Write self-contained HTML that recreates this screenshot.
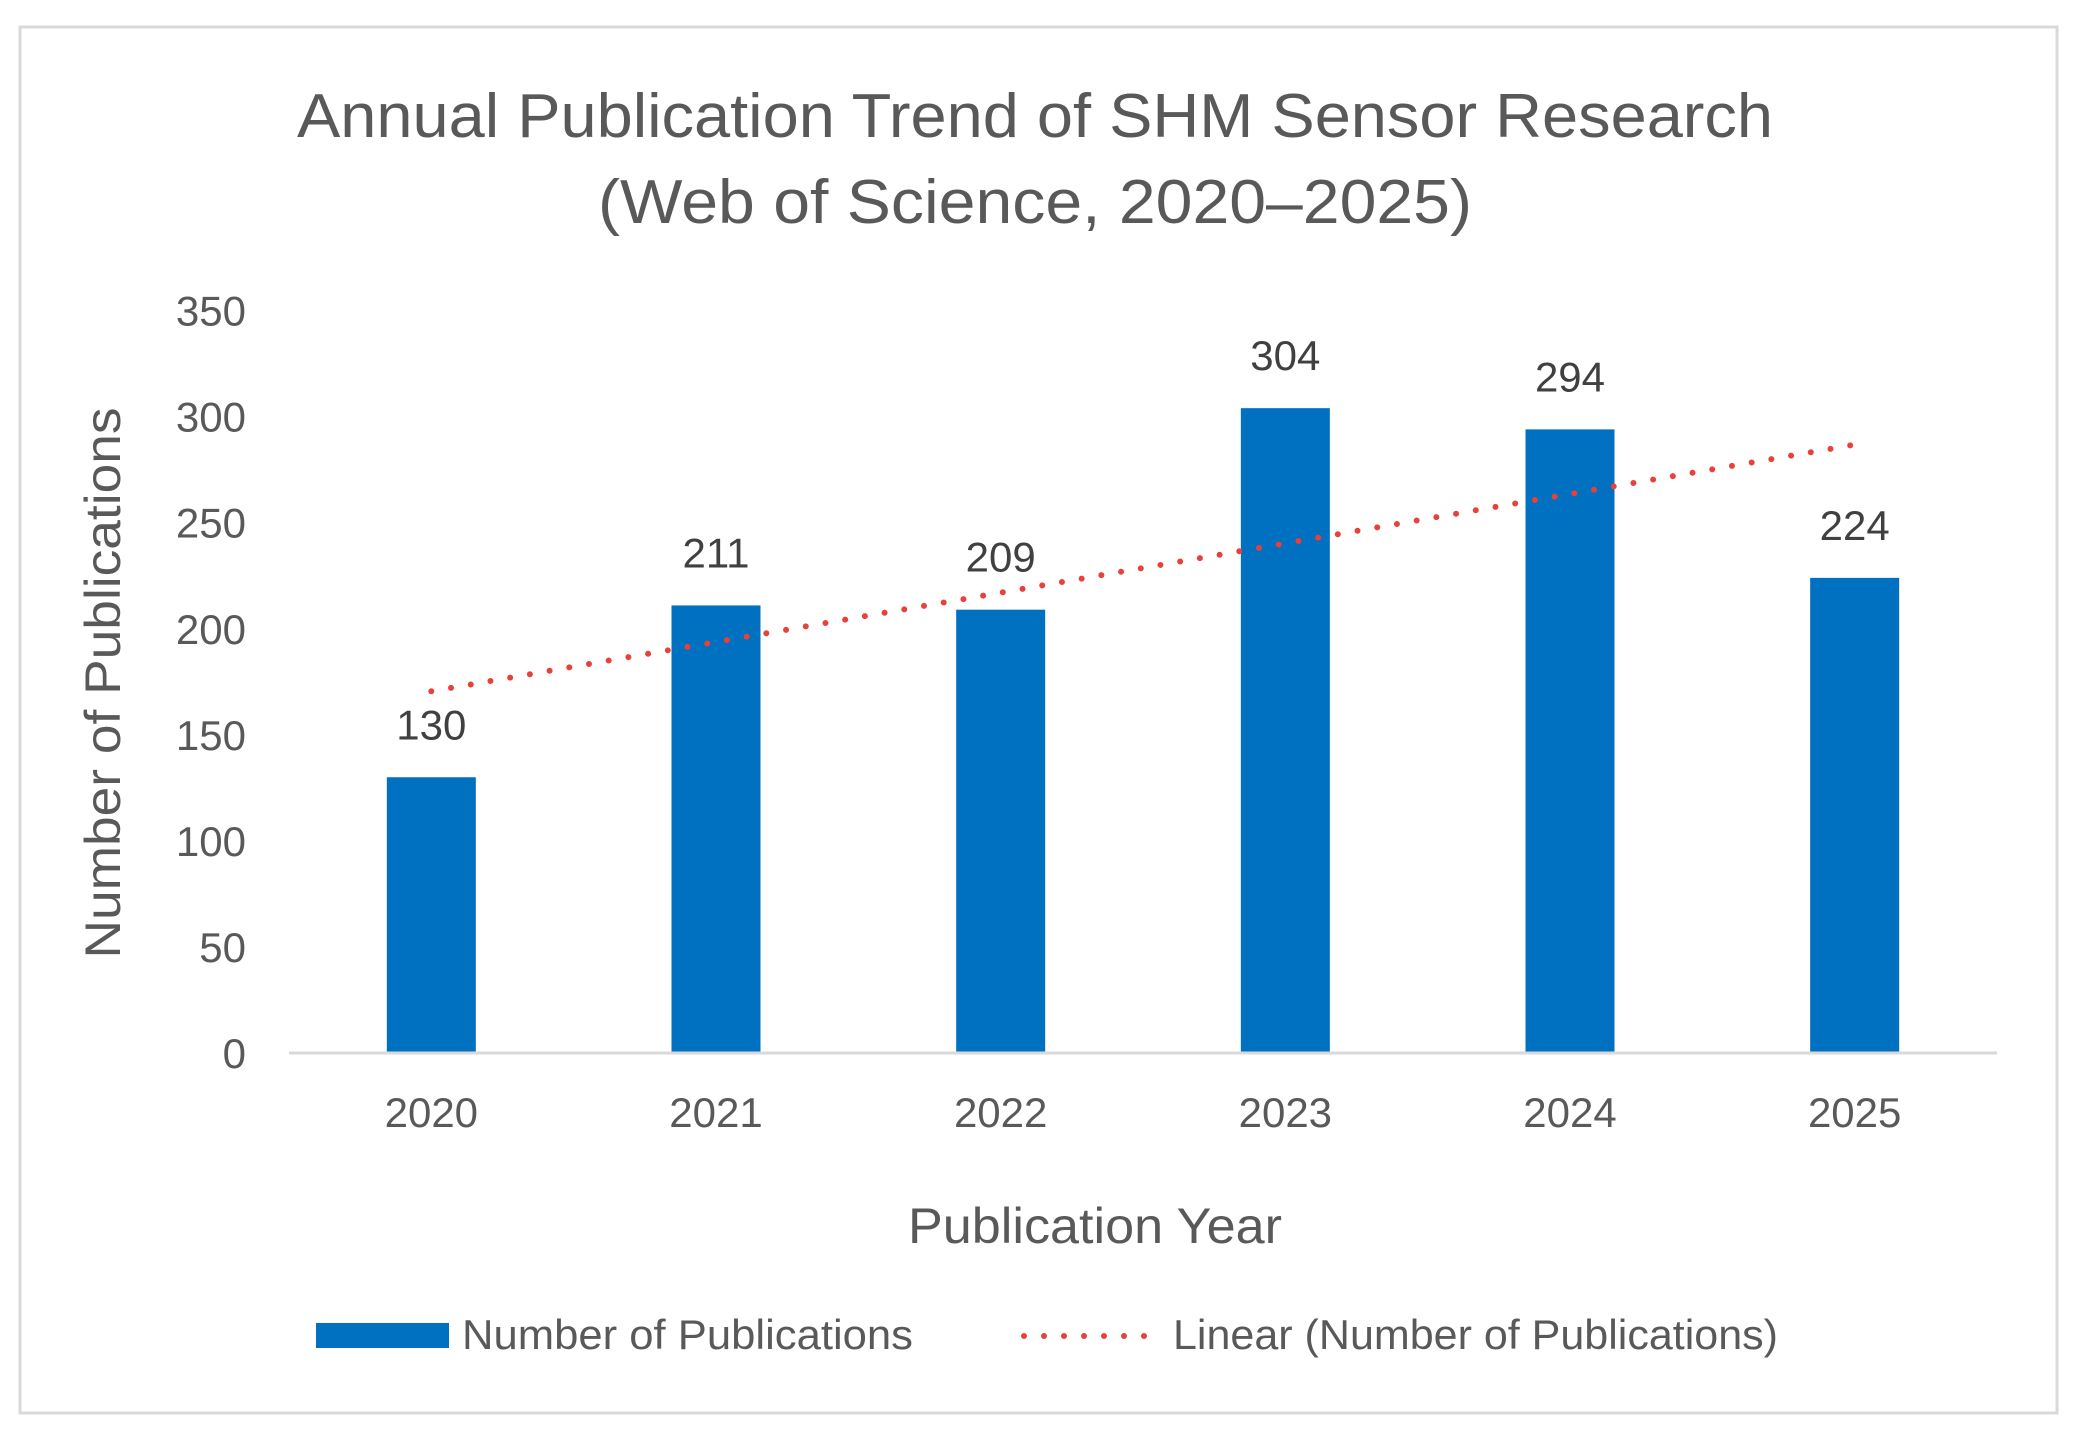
<!DOCTYPE html>
<html><head><meta charset="utf-8"><style>
html,body{margin:0;padding:0;background:#fff;}
svg{display:block;font-family:"Liberation Sans",sans-serif;}
</style></head><body>
<svg id="chart" width="2081" height="1438" viewBox="0 0 2081 1438">
<rect x="20" y="27" width="2037" height="1386" fill="#fff" stroke="#d9d9d9" stroke-width="3"/>
<text x="1035" y="137" text-anchor="middle" font-size="62" fill="#595959" textLength="1476" lengthAdjust="spacingAndGlyphs">Annual Publication Trend of SHM Sensor Research</text>
<text x="1035" y="223" text-anchor="middle" font-size="62" fill="#595959" textLength="874" lengthAdjust="spacingAndGlyphs">(Web of Science, 2020–2025)</text>
<g id="yticks"></g>
<g id="bars"></g>
<g id="labels"></g>
<g id="xlabels"></g>
<line x1="289" y1="1053" x2="1997" y2="1053" stroke="#d9d9d9" stroke-width="3"/>
<path id="trend" fill="none" stroke="#e8403a" stroke-width="6" stroke-linecap="round" stroke-dasharray="0 20"/>
<text transform="translate(120,683) rotate(-90)" text-anchor="middle" font-size="50" fill="#595959" textLength="551" lengthAdjust="spacingAndGlyphs">Number of Publications</text>
<text x="1095" y="1243" text-anchor="middle" font-size="50" fill="#595959" textLength="374" lengthAdjust="spacingAndGlyphs">Publication Year</text>
<g>
<rect x="316" y="1323" width="133" height="25" fill="#0070c0"/>
<text x="462" y="1349" font-size="42" fill="#595959" textLength="451" lengthAdjust="spacingAndGlyphs">Number of Publications</text>
<line x1="1024" y1="1336" x2="1148" y2="1336" stroke="#e8403a" stroke-width="6" stroke-linecap="round" stroke-dasharray="0 20"/>
<text x="1173" y="1349" font-size="42" fill="#595959" textLength="605" lengthAdjust="spacingAndGlyphs">Linear (Number of Publications)</text>
</g>
</svg>
<script>
const categories = ["2020","2021","2022","2023","2024","2025"];
const publications = [130, 211, 209, 304, 294, 224];
const yTickLabels = [0, 50, 100, 150, 200, 250, 300, 350];

const NS = "http://www.w3.org/2000/svg";
const plotL = 289, plotR = 1997, baseY = 1053, topY = 310.6, yMax = 350;
const band = (plotR - plotL) / categories.length;
const barW = 89;
function xCenter(i){ return plotL + band * (i + 0.5); }
function yScale(v){ return baseY - (v / yMax) * (baseY - topY); }
function mk(tag, attrs, parent){ const e = document.createElementNS(NS, tag); for (const k in attrs) e.setAttribute(k, attrs[k]); parent.appendChild(e); return e; }

const yt = document.getElementById("yticks");
yTickLabels.forEach(v => {
  const t = mk("text", {x: 246, y: yScale(v) + 15, "text-anchor": "end", "font-size": 42, fill: "#595959"}, yt);
  t.textContent = v;
  
  
});

const bg = document.getElementById("bars"), lg = document.getElementById("labels"), xg = document.getElementById("xlabels");
publications.forEach((v, i) => {
  const cx = xCenter(i);
  const r = mk("rect", {x: cx - barW/2, y: yScale(v), width: barW, height: baseY - yScale(v), fill: "#0070c0"}, bg);
  
  
  const t = mk("text", {x: cx, y: yScale(v) - 38, "text-anchor": "middle", "font-size": 42, fill: "#404040"}, lg);
  t.textContent = v;
  
  
  const x = mk("text", {x: cx, y: 1127, "text-anchor": "middle", "font-size": 42, fill: "#595959"}, xg);
  x.textContent = categories[i];
  
  
});

// linear regression trendline
const n = publications.length;
const mx = (n - 1) / 2;
const my = publications.reduce((a, b) => a + b, 0) / n;
let sxy = 0, sxx = 0;
publications.forEach((v, i) => { sxy += (i - mx) * (v - my); sxx += (i - mx) * (i - mx); });
const slope = sxy / sxx, intercept = my - slope * mx;
document.getElementById("trend").setAttribute("d",
  "M" + xCenter(0) + "," + yScale(intercept) + " L" + xCenter(n - 1) + "," + yScale(intercept + slope * (n - 1)));
</script>
</body></html>
